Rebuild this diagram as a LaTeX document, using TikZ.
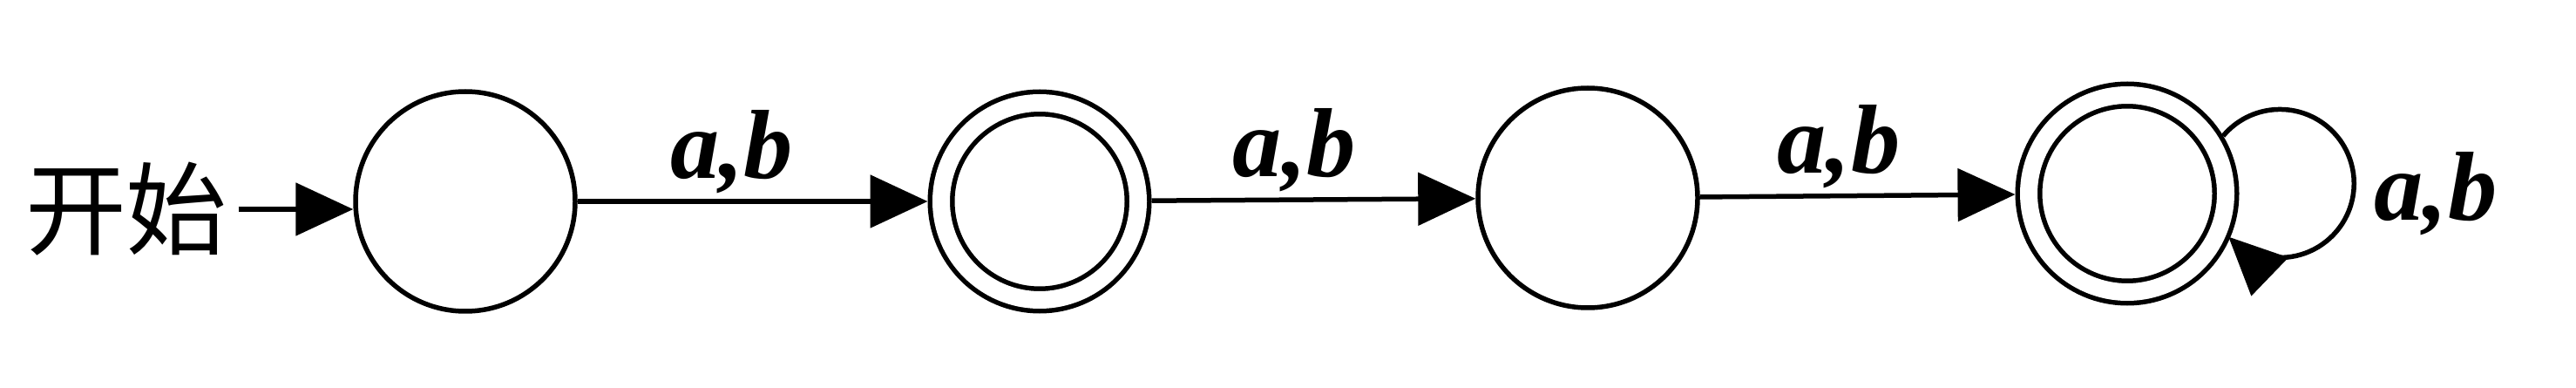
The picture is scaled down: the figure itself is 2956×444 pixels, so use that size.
\documentclass[tikz,border=0pt]{standalone}
\usepackage{fontspec}
\setmainfont{Liberation Serif}
\newfontfamily\cjk{Noto Sans CJK SC}
\usetikzlibrary{arrows.meta,positioning}

\begin{document}
\begin{tikzpicture}[
  x=0.1mm, y=0.1mm,
  st/.style={draw, circle, line width=0.55mm, minimum size=25.2mm, inner sep=0pt},
  acc/.style={st, double, double distance=2mm, minimum size=22.6mm,
              outer sep=1.55mm},
  ar/.style={-{Triangle[length=6.6mm,width=6mm]}, line width=0.55mm},
  lab/.style={font=\fontsize{32}{36}\selectfont\bfseries\itshape, inner sep=0pt},
  cn/.style={font=\cjk\fontsize{33}{38}\selectfont, inner sep=1.2mm}
]
\useasboundingbox (0,0) rectangle (2956,444);

\node[cn] (start) at (145,204) {开始};
\node[st] (s1) at (534,213) {};
\node[acc] (s2) at (1193,213) {};
\node[st] (s3) at (1822,217) {};
\node[acc] (s4) at (2441,222) {};
\node[lab] (l4) at (2795,222) {a,b};

\draw[ar] (start) -- (start -| s1.west);
\draw[ar] (s1) -- node[lab, pos=0.44, above=0.6mm] (l1) {a,b} (s2);
\draw[ar] (s2) -- node[lab, pos=0.44, above=0.6mm] (l2) {a,b} (s3);
\draw[ar] (s3) -- node[lab, pos=0.44, above=0.6mm] (l3) {a,b} (s4);
\draw[ar] (s4.31) arc[start angle=140, end angle=-134, radius=8.5mm];

\end{tikzpicture}
\end{document}
